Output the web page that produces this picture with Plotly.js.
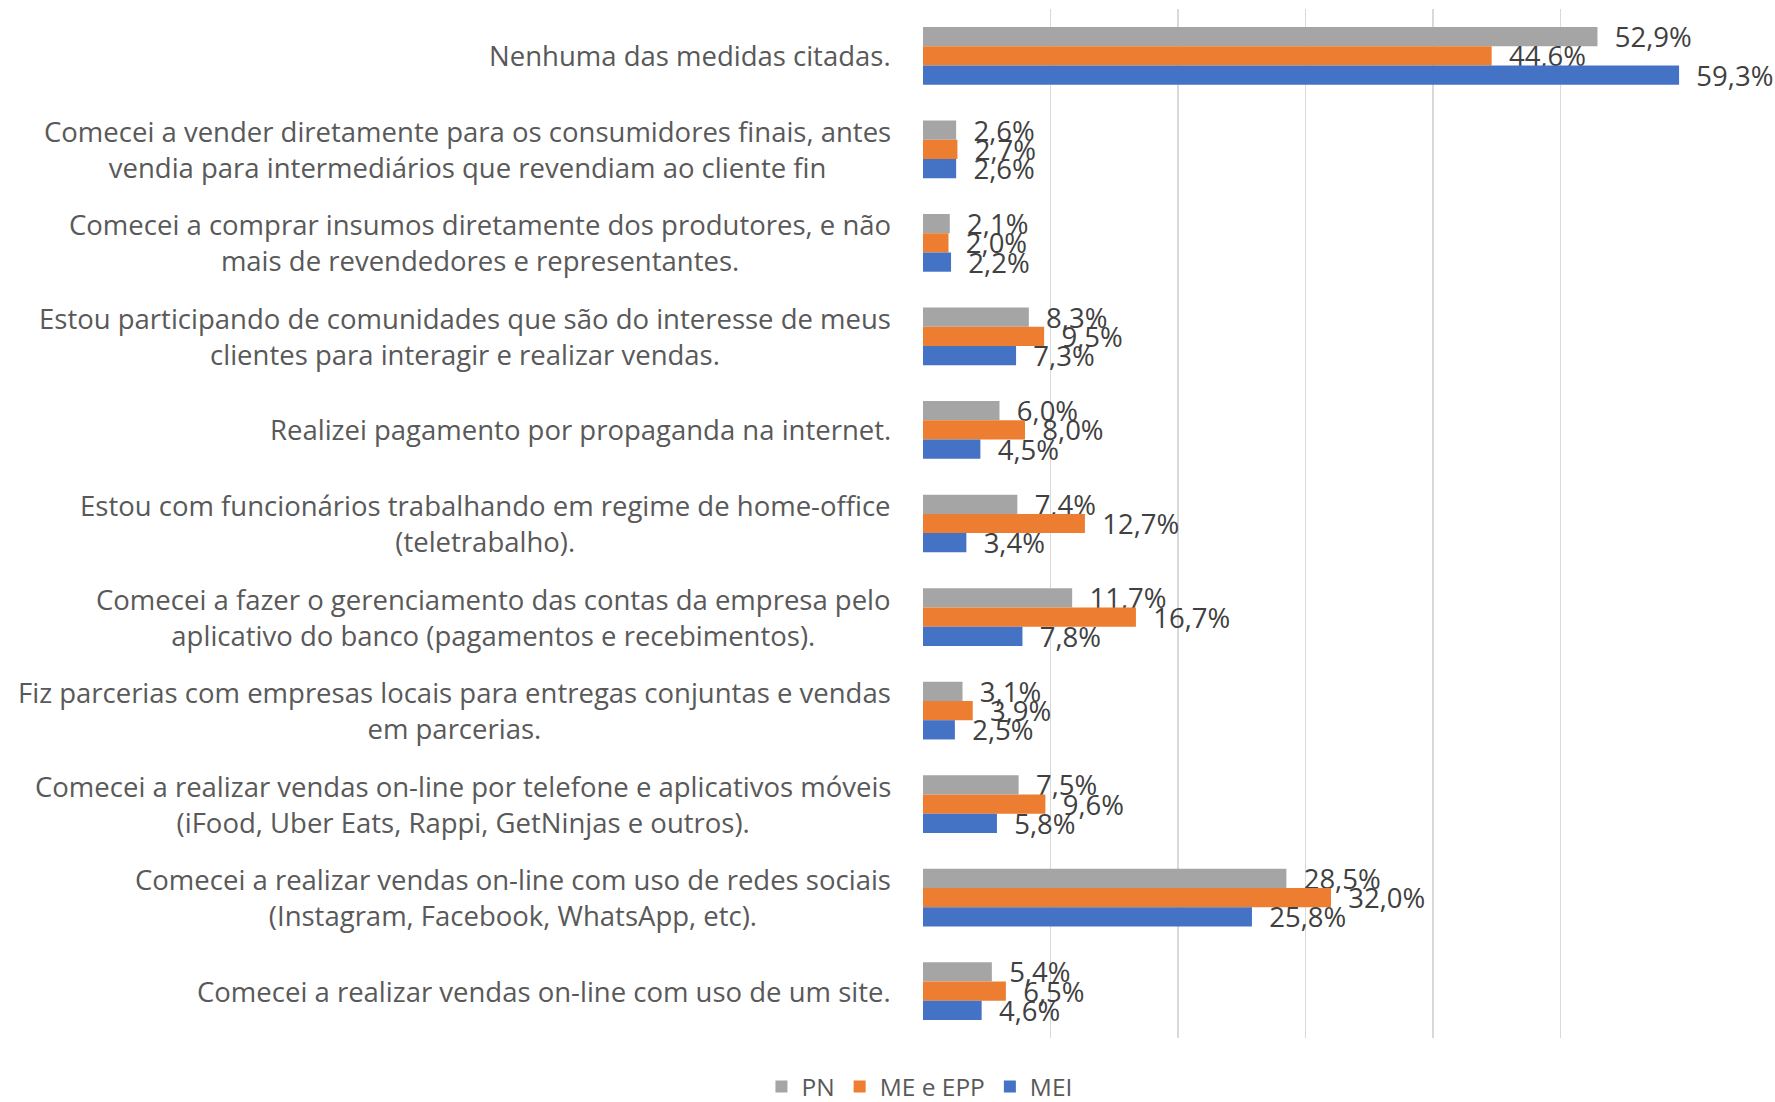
<!DOCTYPE html>
<html>
<head>
<meta charset="utf-8">
<script src="https://cdn.plot.ly/plotly-3.0.1.min.js"></script>
<style>html,body{margin:0;padding:0;background:#fff;}#chart{width:1775px;height:1102px;}</style>
</head>
<body>
<div id="chart"></div>
<script>
const categories = [
  "Nenhuma das medidas citadas.",
  "Comecei a vender diretamente para os consumidores finais, antes<br>vendia para intermediários que revendiam ao cliente fin",
  "Comecei a comprar insumos diretamente dos produtores, e não<br>mais de revendedores e representantes.",
  "Estou participando de comunidades que são do interesse de meus<br>clientes para interagir e realizar vendas.",
  "Realizei pagamento por propaganda na internet.",
  "Estou com funcionários trabalhando em regime de home-office<br>(teletrabalho).",
  "Comecei a fazer o gerenciamento das contas da empresa pelo<br>aplicativo do banco (pagamentos e recebimentos).",
  "Fiz parcerias com empresas locais para entregas conjuntas e vendas<br>em parcerias.",
  "Comecei a realizar vendas on-line por telefone e aplicativos móveis<br>(iFood, Uber Eats, Rappi, GetNinjas e outros).",
  "Comecei a realizar vendas on-line com uso de redes sociais<br>(Instagram, Facebook, WhatsApp, etc).",
  "Comecei a realizar vendas on-line com uso de um site."
];
const seriesNames = ["PN", "ME e EPP", "MEI"];
const pnValues  = [52.9, 2.6, 2.1, 8.3, 6.0, 7.4, 11.7, 3.1, 7.5, 28.5, 5.4];
const meValues  = [44.6, 2.7, 2.0, 9.5, 8.0, 12.7, 16.7, 3.9, 9.6, 32.0, 6.5];
const meiValues = [59.3, 2.6, 2.2, 7.3, 4.5, 3.4, 7.8, 2.5, 5.8, 25.8, 4.6];
const colors = ["#A5A5A5", "#ED7D31", "#4472C4"];

const allValues = [pnValues, meValues, meiValues];
const traces = allValues.map((vals, i) => ({
  type: "bar",
  orientation: "h",
  name: seriesNames[i],
  x: vals,
  y: categories.map((c, k) => k),
  marker: {color: colors[i]},
  texttemplate: "  %{x:.1f}%",
  textposition: "outside",
  constraintext: "none",
  cliponaxis: false,
  textfont: {family: "Open Sans", size: 27.5, color: "#404040"},
  hoverinfo: "skip"
}));

const annotations = categories.map((c, k) => ({
  text: c,
  x: 0, xref: "paper", xanchor: "right", xshift: -30,
  y: k, yref: "y", yanchor: "middle",
  align: "center",
  showarrow: false,
  font: {family: "Open Sans", size: 27.5, color: "#595959"}
}));

const layout = {
  width: 1775, height: 1102,
  margin: {l: 923, r: 87, t: 9, b: 64},
  paper_bgcolor: "#ffffff", plot_bgcolor: "#ffffff",
  barmode: "group", bargap: 0.383, bargroupgap: 0,
  separators: ",.",
  showlegend: true,
  legend: {
    orientation: "h", xref: "container", yref: "container",
    x: 0.518, xanchor: "center", y: 0.014, yanchor: "middle",
    font: {family: "Open Sans", size: 24.5, color: "#595959"},
    itemwidth: 30, tracegroupgap: 0
  },
  xaxis: {
    range: [0, 60], dtick: 10, showticklabels: false,
    showgrid: true, gridcolor: "#D9D9D9", gridwidth: 1.5,
    zeroline: false, showline: false, ticks: "", fixedrange: true
  },
  yaxis: {
    autorange: "reversed", showticklabels: false, showgrid: false,
    zeroline: false, showline: false, ticks: "", fixedrange: true,
    range: [10.5, -0.5]
  },
  annotations: annotations
};

Plotly.newPlot("chart", traces, layout, {displayModeBar: false, staticPlot: true});
</script>
</body>
</html>
